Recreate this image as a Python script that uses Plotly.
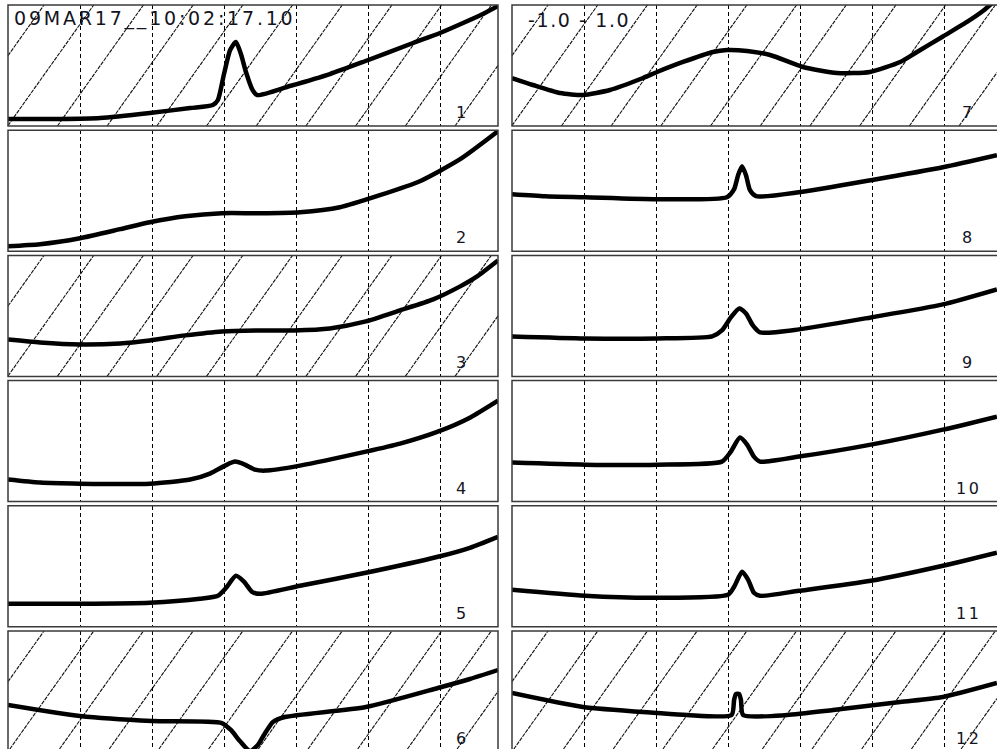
import plotly.graph_objects as go

W, H = 997, 749

# ---- data: time in ms (grid every 200 ms), amplitude in mV (panel range -1..1) ----
lead_labels = ["1", "2", "3", "4", "5", "6", "7", "8", "9", "10", "11", "12"]
hatched_leads = ["1", "3", "6", "7", "12"]
stamp_text = "09MAR17__10:02:17.10"
scale_text = "-1.0 - 1.0"

t1 = [0, 144, 256, 394, 506, 569, 583, 600, 617, 633, 647, 661, 678, 692, 783, 894, 986, 1125, 1200, 1264, 1319, 1361]
v1 = [-0.884, -0.884, -0.868, -0.785, -0.703, -0.653, -0.570, -0.141, 0.256, 0.388, 0.190, -0.108, -0.389, -0.488, -0.339, -0.141, 0.058, 0.372, 0.537, 0.702, 0.851, 0.983]

t2 = [0, 89, 200, 311, 394, 492, 594, 700, 811, 922, 1033, 1144, 1256, 1361]
v2 = [-0.917, -0.884, -0.785, -0.636, -0.521, -0.422, -0.372, -0.372, -0.355, -0.273, -0.074, 0.157, 0.521, 0.983]

t3 = [0, 89, 200, 311, 394, 492, 594, 700, 794, 894, 994, 1089, 1181, 1256, 1303, 1361]
v3 = [-0.389, -0.438, -0.471, -0.455, -0.405, -0.322, -0.256, -0.240, -0.240, -0.207, -0.091, 0.091, 0.273, 0.488, 0.653, 0.917]

t4 = [0, 89, 200, 394, 506, 561, 603, 631, 658, 686, 714, 811, 994, 1089, 1194, 1283, 1361]
v4 = [-0.636, -0.686, -0.703, -0.703, -0.636, -0.537, -0.405, -0.339, -0.389, -0.471, -0.488, -0.405, -0.174, -0.041, 0.157, 0.388, 0.669]

t5 = [0, 200, 394, 533, 583, 606, 633, 656, 678, 700, 811, 994, 1194, 1283, 1361]
v5 = [-0.620, -0.620, -0.603, -0.537, -0.488, -0.355, -0.157, -0.256, -0.422, -0.455, -0.322, -0.108, 0.157, 0.306, 0.488]

t6 = [0, 200, 400, 594, 619, 644, 672, 694, 711, 736, 769, 994, 1194, 1283, 1361]
v6 = [-0.223, -0.405, -0.488, -0.521, -0.636, -0.818, -0.984, -0.884, -0.719, -0.504, -0.422, -0.256, 0.058, 0.207, 0.355]

t7 = [0, 58, 133, 197, 272, 364, 403, 475, 558, 597, 653, 717, 808, 903, 994, 1078, 1125, 1197, 1264, 1308, 1356]
v7 = [-0.207, -0.322, -0.455, -0.488, -0.405, -0.207, -0.108, 0.058, 0.223, 0.256, 0.240, 0.174, -0.025, -0.124, -0.108, 0.058, 0.223, 0.480, 0.720, 0.900, 1.150]

t8 = [0, 92, 203, 403, 597, 617, 628, 639, 650, 661, 678, 797, 997, 1197, 1347]
v8 = [-0.058, -0.091, -0.108, -0.141, -0.108, 0.025, 0.256, 0.405, 0.256, 0.008, -0.091, -0.025, 0.174, 0.388, 0.587]

t9 = [0, 203, 403, 556, 583, 608, 631, 650, 669, 689, 797, 997, 1197, 1347]
v9 = [-0.339, -0.372, -0.372, -0.339, -0.240, -0.025, 0.124, 0.041, -0.157, -0.273, -0.223, -0.025, 0.190, 0.438]

t10 = [0, 203, 403, 583, 608, 633, 653, 672, 689, 797, 997, 1197, 1347]
v10 = [-0.355, -0.389, -0.389, -0.339, -0.174, 0.058, -0.058, -0.256, -0.339, -0.256, -0.058, 0.190, 0.405]

t11 = [0, 203, 403, 600, 617, 639, 656, 672, 689, 797, 997, 1197, 1347]
v11 = [-0.389, -0.488, -0.521, -0.471, -0.339, -0.091, -0.223, -0.438, -0.488, -0.405, -0.240, 0.008, 0.223]

t12 = [0, 197, 403, 486, 610, 617, 622, 631, 636, 642, 764, 892, 1078, 1197, 1347]
v12 = [-0.025, -0.256, -0.355, -0.389, -0.389, -0.141, -0.041, -0.041, -0.141, -0.389, -0.389, -0.306, -0.174, -0.091, 0.140]

times = [t1, t2, t3, t4, t5, t6, t7, t8, t9, t10, t11, t12]
volts = [v1, v2, v3, v4, v5, v6, v7, v8, v9, v10, v11, v12]

# ---- layout geometry (pixels) ----
GRID_MS = 200
PX_PER_GRID = 72.0
COL_LEFT = [8, 512]
PANEL_W = 490
PANEL_H = 121
ROW_TOP0 = 5
ROW_PITCH = 125.2
HATCH_DX = 86.0      # horizontal run of one hatch line over a full panel height
HATCH_SPACING = 49.7
HATCH_OFFSET = 36.0

fig = go.Figure()
layout = dict(
    width=W, height=H, margin=dict(l=0, r=0, t=0, b=0),
    paper_bgcolor="white", plot_bgcolor="rgba(0,0,0,0)", showlegend=False,
)
shapes = []
annotations = []


def clip_segment(x0, y0, x1, y1, xmin, xmax, ymin, ymax):
    # Liang-Barsky clipping
    dx, dy = x1 - x0, y1 - y0
    p = [-dx, dx, -dy, dy]
    q = [x0 - xmin, xmax - x0, y0 - ymin, ymax - y0]
    u0, u1 = 0.0, 1.0
    for pi, qi in zip(p, q):
        if pi == 0:
            if qi < 0:
                return None
        else:
            r = qi / pi
            if pi < 0:
                u0 = max(u0, r)
            else:
                u1 = min(u1, r)
    if u0 > u1:
        return None
    return (x0 + u0 * dx, y0 + u0 * dy, x0 + u1 * dx, y0 + u1 * dy)


def px_to_paper_x(px):
    return px / W


def px_to_paper_y(py):
    return 1 - py / H


for i in range(12):
    col = 0 if i < 6 else 1
    row = i % 6
    left = COL_LEFT[col]
    right_full = left + PANEL_W
    right = min(right_full, W)
    top = ROW_TOP0 + row * ROW_PITCH
    bottom_full = top + PANEL_H
    bottom = min(bottom_full, H)
    n = "" if i == 0 else str(i + 1)
    xa, ya = "xaxis" + n, "yaxis" + n

    xr = [0, (right - left) * GRID_MS / PX_PER_GRID]
    yr = [1 - 2 * (bottom - top) / PANEL_H, 1]
    layout[xa] = dict(
        domain=[left / W, right / W], range=xr, anchor="y" + n,
        showticklabels=False, ticks="", zeroline=False, showline=False,
        showgrid=True, tick0=0, dtick=GRID_MS, gridcolor="black",
        gridwidth=1.4, griddash="4px,3px", fixedrange=True,
    )
    layout[ya] = dict(
        domain=[1 - bottom / H, 1 - top / H], range=yr, anchor="x" + n,
        showticklabels=False, ticks="", zeroline=False, showline=False,
        showgrid=False, fixedrange=True,
    )

    fig.add_trace(go.Scatter(
        x=times[i], y=volts[i], mode="lines", xaxis="x" + n, yaxis="y" + n,
        line=dict(color="black", width=4.5, shape="spline", smoothing=0.6),
        hoverinfo="skip",
    ))

    # hatch lines (paper coordinates, drawn under the traces)
    if lead_labels[i] in hatched_leads:
        for k in range(-3, 12):
            xt = left + HATCH_OFFSET + k * HATCH_SPACING
            xb = xt - HATCH_DX
            seg = clip_segment(xb, bottom_full, xt, top, left, right, top, bottom)
            if seg is None:
                continue
            ax0, ay0, ax1, ay1 = seg
            if abs(ax1 - ax0) < 0.5 and abs(ay1 - ay0) < 0.5:
                continue
            shapes.append(dict(
                type="line", xref="paper", yref="paper", layer="below",
                x0=px_to_paper_x(ax0), x1=px_to_paper_x(ax1),
                y0=px_to_paper_y(ay0), y1=px_to_paper_y(ay1),
                line=dict(color="#111111", width=1.1, dash="4px,1px"),
            ))

    # panel border
    shapes.append(dict(
        type="rect", xref="paper", yref="paper", layer="above",
        x0=px_to_paper_x(left), x1=px_to_paper_x(right_full),
        y0=px_to_paper_y(bottom_full), y1=px_to_paper_y(top),
        line=dict(color="#3a3a3a", width=1.5), fillcolor="rgba(0,0,0,0)",
    ))

    # lead number
    cx = left + 454 if col == 0 else left + 456
    annotations.append(dict(
        x=cx / W, y=1 - (top + 107.5) / H, xref="paper", yref="paper",
        text='<span style="letter-spacing:2.5px">' + lead_labels[i] + '</span>',
        showarrow=False, xanchor="center", yanchor="middle",
        font=dict(family="DejaVu Sans", size=16, color="#14141e"),
    ))

annotations.append(dict(
    x=12 / W, y=1 - 19 / H, xref="paper", yref="paper",
    text='<span style="letter-spacing:2.8px">' + stamp_text + '</span>',
    showarrow=False, xanchor="left", yanchor="middle",
    font=dict(family="DejaVu Sans", size=19, color="#14141e"),
))
annotations.append(dict(
    x=526 / W, y=1 - 20 / H, xref="paper", yref="paper",
    text='<span style="letter-spacing:1.6px">' + scale_text + '</span>',
    showarrow=False, xanchor="left", yanchor="middle",
    font=dict(family="DejaVu Sans", size=19, color="#14141e"),
))

layout["shapes"] = shapes
layout["annotations"] = annotations
fig.update_layout(**layout)
fig.write_html(
    "out.html",
    config={"displayModeBar": False},
    post_script="document.body.style.margin='0';document.body.style.overflow='hidden';",
)
